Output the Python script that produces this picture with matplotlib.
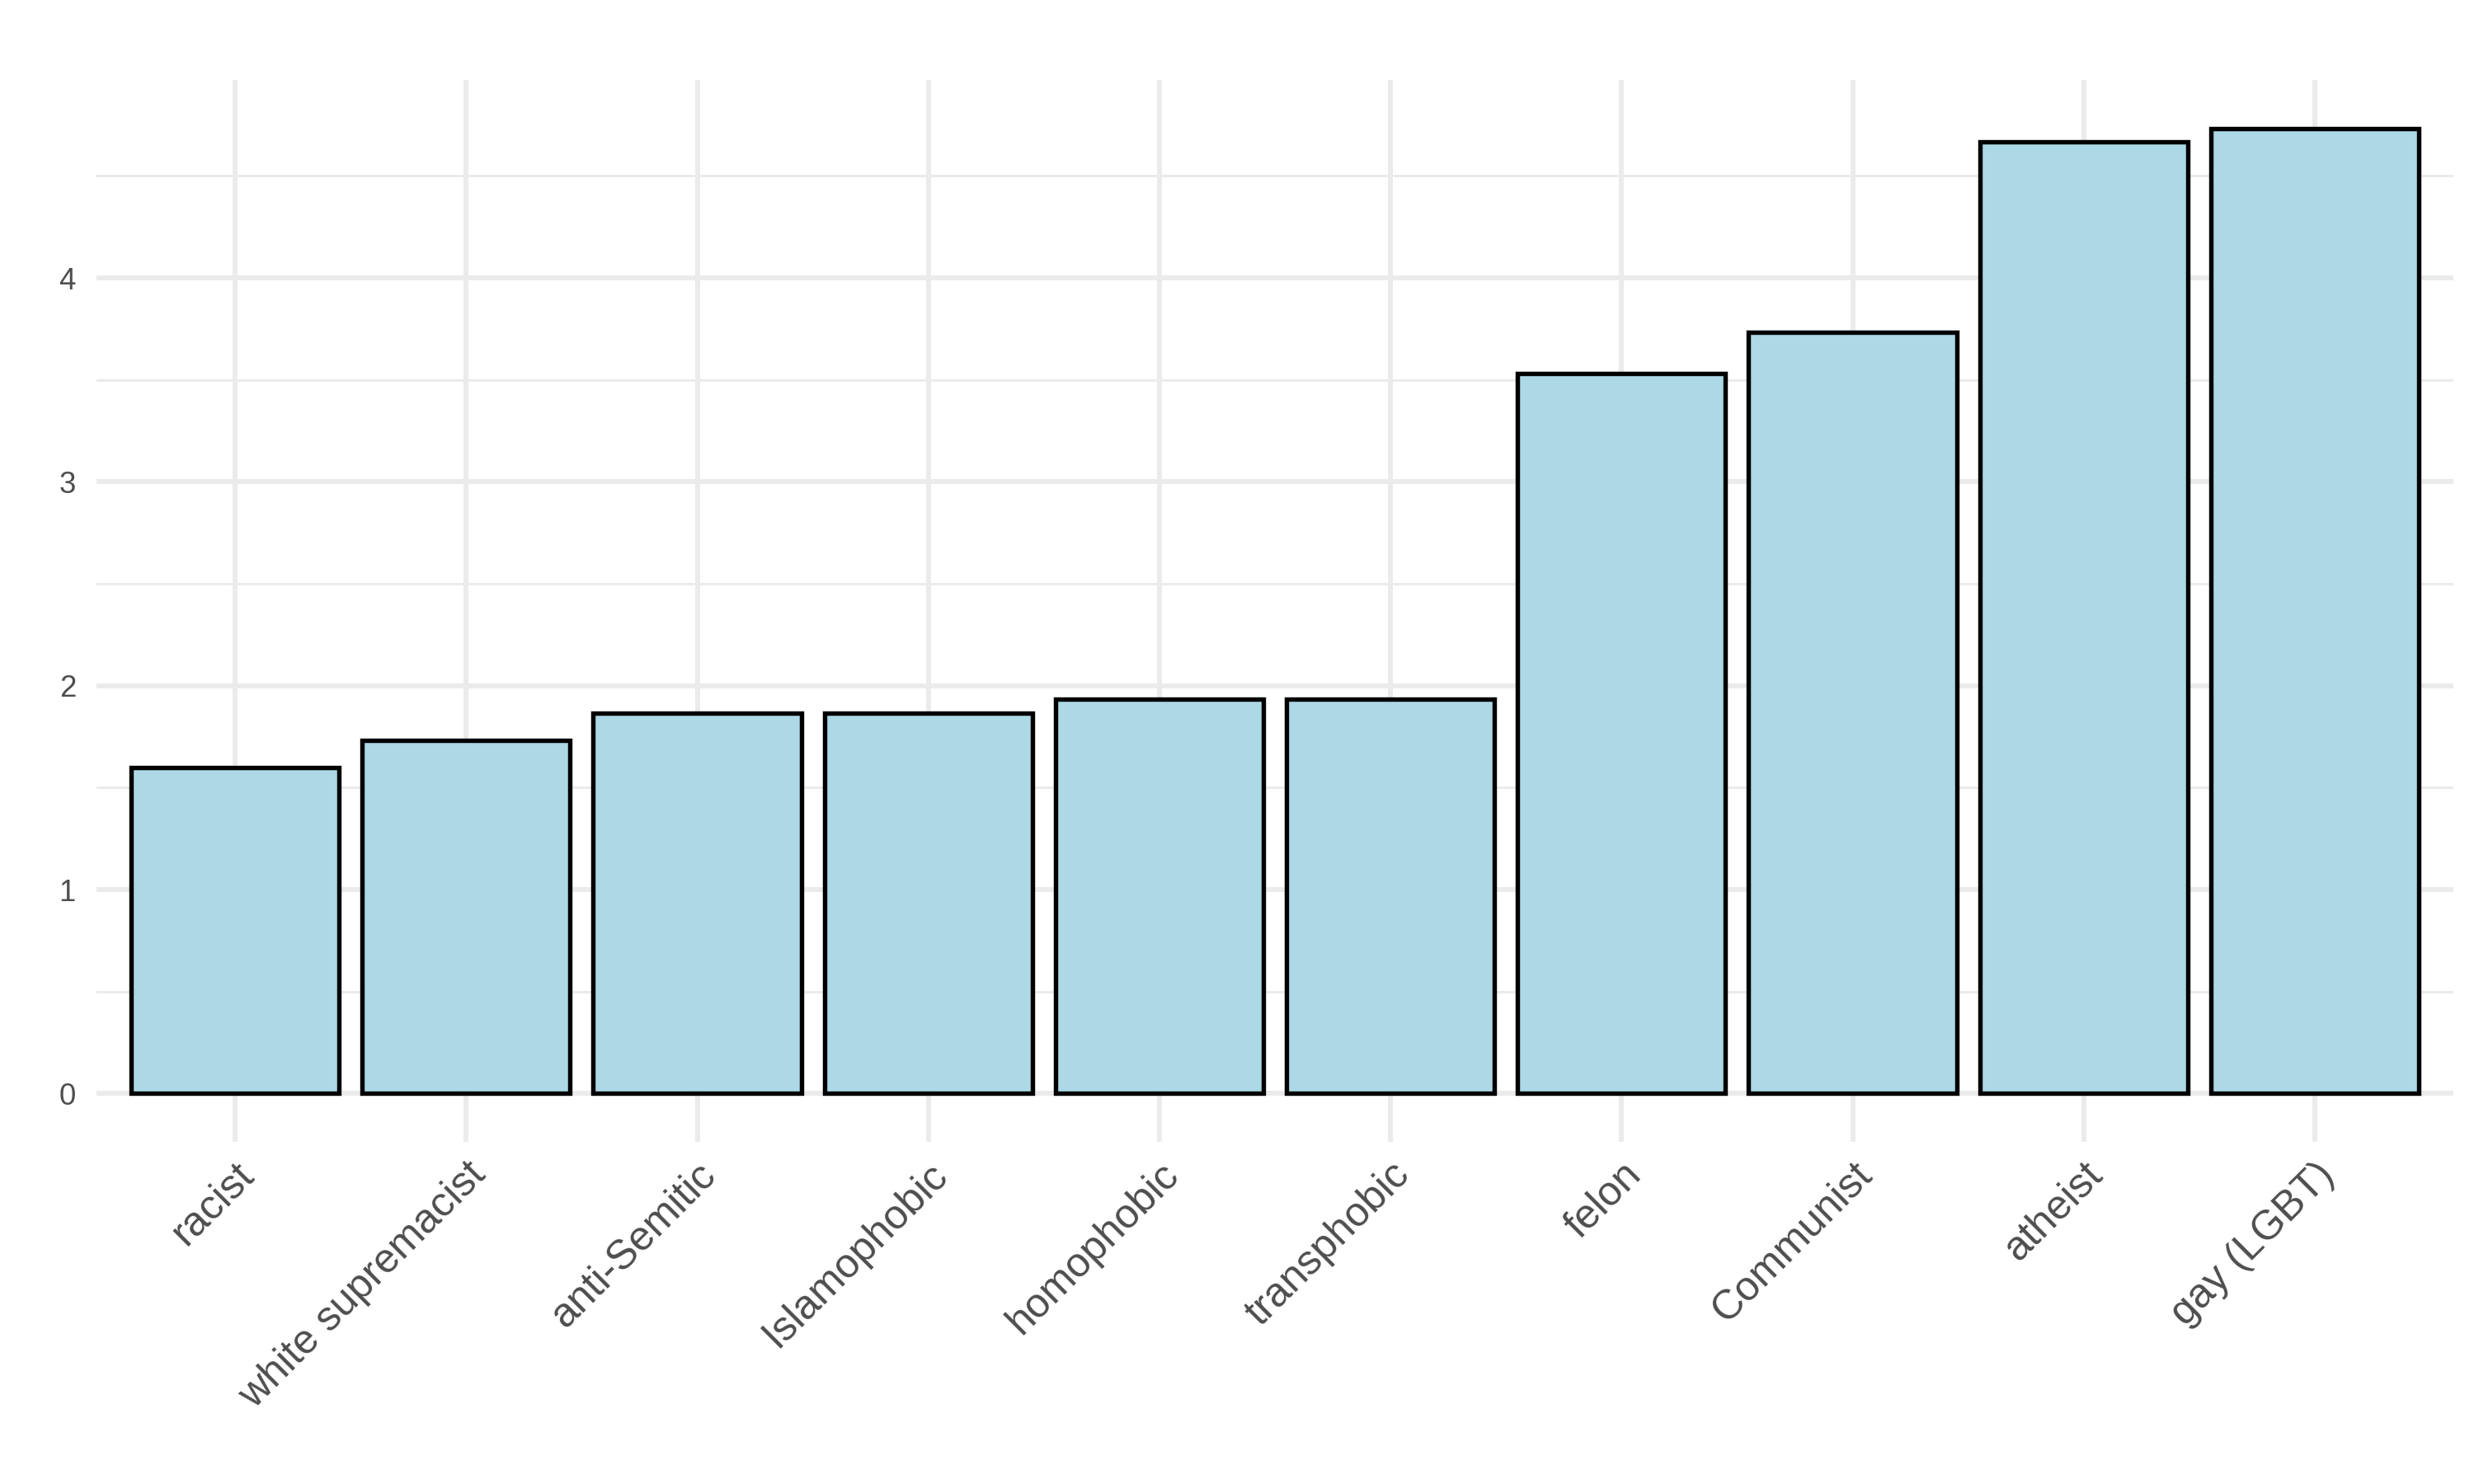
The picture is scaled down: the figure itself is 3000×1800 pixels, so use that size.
import matplotlib
matplotlib.use("Agg")
import matplotlib.pyplot as plt
import numpy as np

categories = ["racist", "white supremacist", "anti-Semitic", "Islamophobic",
              "homophobic", "transphobic", "felon", "Communist", "atheist", "gay (LGBT)"]
values = [1.600, 1.733, 1.867, 1.867, 1.933, 1.933, 3.533, 3.733, 4.667, 4.733]
yticks = [0, 1, 2, 3, 4]

plt.rcParams['font.family'] = ['Liberation Sans', 'DejaVu Sans']

fig = plt.figure(figsize=(10, 6), dpi=300)
ax = fig.add_axes([0.039, 0.2306, 0.9527, 0.7154])

x = np.arange(1, len(categories) + 1)
ax.bar(x, values, width=0.9, color="#ADD8E6", edgecolor="black", linewidth=1.3, zorder=3)

ymax = max(values)
ax.set_ylim(-0.05 * ymax, ymax * 1.05)
ax.set_xlim(0.4, len(categories) + 0.6)

ax.set_yticks(yticks)
ax.set_yticks(np.arange(0.5, 5, 1.0), minor=True)
ax.set_xticks(x)
ax.set_xticklabels(categories, rotation=45, ha="right", va="top",
                   rotation_mode="anchor", fontsize=12, color="#4D4D4D")
ax.set_yticklabels([str(t) for t in yticks], fontsize=8.8, color="#4D4D4D")

ax.grid(which="major", color="#EBEBEB", linewidth=1.42, zorder=0)
ax.grid(which="minor", axis="y", color="#EBEBEB", linewidth=0.71, zorder=0)
ax.set_axisbelow(True)
ax.tick_params(axis="both", which="both", length=0)
ax.tick_params(axis="x", pad=4)
ax.tick_params(axis="y", pad=6)
for s in ax.spines.values():
    s.set_visible(False)

fig.savefig("out.png", dpi=300, facecolor="white")
